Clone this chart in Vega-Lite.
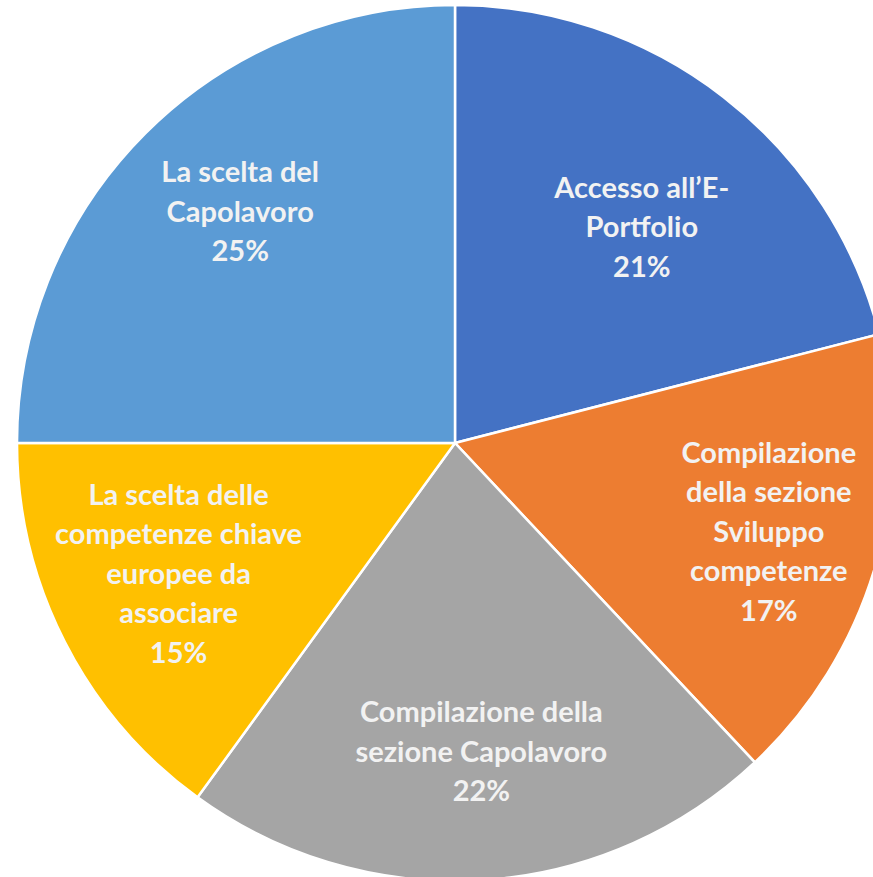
{
  "$schema": "https://vega.github.io/schema/vega-lite/v6.json",
  "width": 873,
  "height": 877,
  "autosize": "none",
  "padding": 0,
  "background": "white",
  "config": {"view": {"stroke": null}},
  "data": {
    "values": [
      {"k": 1, "cat": "Accesso all’E-Portfolio", "label": "Accesso all’E-\nPortfolio\n21%", "pct": 21},
      {"k": 2, "cat": "Compilazione della sezione Sviluppo competenze", "label": "Compilazione\ndella sezione\nSviluppo\ncompetenze\n17%", "pct": 17},
      {"k": 3, "cat": "Compilazione della sezione Capolavoro", "label": "Compilazione della\nsezione Capolavoro\n22%", "pct": 22},
      {"k": 4, "cat": "La scelta delle competenze chiave europee da associare", "label": "La scelta delle\ncompetenze chiave\neuropee da\nassociare\n15%", "pct": 15},
      {"k": 5, "cat": "La scelta del Capolavoro", "label": "La scelta del\nCapolavoro\n25%", "pct": 25}
    ]
  },
  "encoding": {
    "theta": {"field": "pct", "type": "quantitative", "stack": true},
    "order": {"field": "k", "type": "quantitative"}
  },
  "layer": [
    {
      "mark": {"type": "arc", "x": 455, "y": 443, "outerRadius": 438, "stroke": "white", "strokeWidth": 2.5},
      "encoding": {
        "color": {
          "field": "cat",
          "type": "nominal",
          "legend": null,
          "sort": {"field": "k"},
          "scale": {
            "domain": ["Accesso all’E-Portfolio", "Compilazione della sezione Sviluppo competenze", "Compilazione della sezione Capolavoro", "La scelta delle competenze chiave europee da associare", "La scelta del Capolavoro"],
            "range": ["#4472C4", "#ED7D31", "#A5A5A5", "#FFC000", "#5B9BD5"]
          }
        }
      }
    },
    {
      "mark": {"type": "text", "x": 455, "y": 443, "radius": 308, "dx": -2, "dy": -11, "font": "Lato", "fontWeight": "bold", "fontSize": 29, "lineHeight": 39.5, "lineBreak": "\n", "fill": "#F2F2F2", "align": "center", "baseline": "middle"},
      "encoding": {"text": {"condition": {"test": "datum.k === 1", "field": "label"}, "value": ""}}
    },
    {
      "mark": {"type": "text", "x": 455, "y": 443, "radius": 308, "dx": 18, "dy": -75, "font": "Lato", "fontWeight": "bold", "fontSize": 29, "lineHeight": 39.5, "lineBreak": "\n", "fill": "#F2F2F2", "align": "center", "baseline": "middle"},
      "encoding": {"text": {"condition": {"test": "datum.k === 2", "field": "label"}, "value": ""}}
    },
    {
      "mark": {"type": "text", "x": 455, "y": 443, "radius": 308, "dx": 7, "dy": -37, "font": "Lato", "fontWeight": "bold", "fontSize": 29, "lineHeight": 39.5, "lineBreak": "\n", "fill": "#F2F2F2", "align": "center", "baseline": "middle"},
      "encoding": {"text": {"condition": {"test": "datum.k === 3", "field": "label"}, "value": ""}}
    },
    {
      "mark": {"type": "text", "x": 455, "y": 443, "radius": 308, "dx": -2, "dy": -87, "font": "Lato", "fontWeight": "bold", "fontSize": 29, "lineHeight": 39.5, "lineBreak": "\n", "fill": "#F2F2F2", "align": "center", "baseline": "middle"},
      "encoding": {"text": {"condition": {"test": "datum.k === 4", "field": "label"}, "value": ""}}
    },
    {
      "mark": {"type": "text", "x": 455, "y": 443, "radius": 308, "dx": 3, "dy": -52, "font": "Lato", "fontWeight": "bold", "fontSize": 29, "lineHeight": 39.5, "lineBreak": "\n", "fill": "#F2F2F2", "align": "center", "baseline": "middle"},
      "encoding": {"text": {"condition": {"test": "datum.k === 5", "field": "label"}, "value": ""}}
    }
  ]
}
